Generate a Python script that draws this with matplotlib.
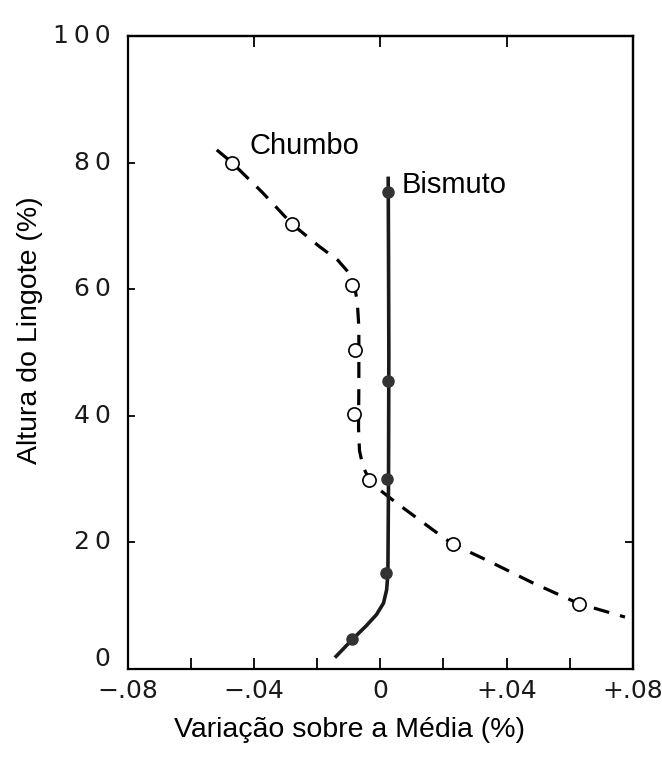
import matplotlib.pyplot as plt
import numpy as np

# Chumbo (lead): measured points (open circles) and drawn dashed curve
chumbo_x = [-0.047, -0.028, -0.009, -0.008, -0.0084, -0.0036, 0.023, 0.063]
chumbo_y = [80.0, 70.3, 60.7, 50.4, 40.3, 29.9, 19.7, 10.3]
chumbo_curve_x = [-0.0518, -0.047, -0.0372, -0.028, -0.0192, -0.0135, -0.0100, -0.0082,
                  -0.0073, -0.0068, -0.0068, -0.0069, -0.0066, -0.0055, -0.0036, -0.0002,
                  0.0052, 0.0166, 0.023, 0.0337, 0.0483, 0.063, 0.0775]
chumbo_curve_y = [82.0, 80.0, 75.2, 70.3, 66.7, 64.6, 62.6, 60.6,
                  58.0, 54.0, 45.0, 38.0, 34.5, 32.0, 30.0, 28.3,
                  26.2, 22.0, 19.7, 17.2, 13.6, 10.3, 8.2]

# Bismuto (bismuth): measured points (filled circles) and solid curve
bismuto_x = [-0.009, 0.0017, 0.002, 0.0024, 0.0024]
bismuto_y = [4.8, 15.2, 30.0, 45.5, 75.3]
bismuto_curve_x = [-0.014, -0.009, -0.0045, -0.0012, 0.0010, 0.0020, 0.0024, 0.0026, 0.0027, 0.0026, 0.0025]
bismuto_curve_y = [2.0, 4.6, 6.8, 8.6, 10.4, 12.5, 15.0, 30.0, 50.0, 65.0, 77.5]

xticks = [-0.08, -0.04, 0.0, 0.04, 0.08]
xticklabels = ['\u2212.08', '\u2212.04', '0', '+.04', '+.08']
yticks = [0, 20, 40, 60, 80, 100]
yticklabels = ['0', '2\u20090', '4\u20090', '6\u20090', '8\u20090', '1\u20090\u20090']

fig = plt.figure(figsize=(6.62, 7.65), dpi=100)
ax = fig.add_axes([0.193, 0.1255, 0.763, 0.8275])

ax.plot(chumbo_curve_x, chumbo_curve_y, color='black', lw=2.3,
        linestyle=(0, (5, 3.5)), zorder=2)
ax.plot(chumbo_x, chumbo_y, 'o', ms=9.5, mfc='white', mec='black', mew=1.2, zorder=3)

ax.plot(bismuto_curve_x, bismuto_curve_y, color='#1a1a1a', lw=2.6, zorder=2)
ax.plot(bismuto_x, bismuto_y, 'o', ms=8, mfc='#333333', mec='#333333', zorder=3)

ax.text(-0.0415, 82.6, 'Chumbo', family='Liberation Sans', fontsize=21, va='center')
ax.text(0.0066, 76.4, 'Bismuto', family='Liberation Sans', fontsize=21, va='center')

ax.set_xlim(-0.08, 0.08)
ax.set_ylim(0, 100)
ax.set_xticks(np.arange(-0.08, 0.081, 0.02))
ax.set_xticklabels([''] * 9)
ax.set_yticks([20, 40, 60, 80])
ax.set_yticklabels([''] * 4)
ax.tick_params(axis='x', direction='in', length=8, width=1.3)
ax.tick_params(axis='y', direction='in', length=5, width=1.3)

for v, lab in zip(xticks, xticklabels):
    ax.text(v, -3.4, lab, ha='center', va='center', fontsize=18,
            family='DejaVu Sans', color='#1a1a1a')
for v, lab in zip(yticks, yticklabels):
    ax.text(-0.0855, v + (1.6 if v == 0 else 0), lab, ha='right', va='center',
            fontsize=18, family='DejaVu Sans', color='#1a1a1a')

top = ax.secondary_xaxis('top')
top.set_xticks([-0.04, 0.0, 0.04])
top.set_xticklabels(['', '', ''])
top.tick_params(direction='in', length=8, width=1.3)
right = ax.secondary_yaxis('right')
right.set_yticks([20])
right.set_yticklabels([''])
right.tick_params(direction='in', length=6, width=1.3)

for sp in list(ax.spines.values()) + [top.spines['top'], right.spines['right']]:
    sp.set_linewidth(1.6)

fig.text(0.528, 0.046, 'Variação sobre a Média (%)', ha='center', va='center',
         family='Liberation Sans', fontsize=20.5)
fig.text(0.045, 0.568, 'Altura do Lingote (%)', ha='center', va='center',
         rotation=90, family='Liberation Sans', fontsize=20.5)

fig.savefig('out.png', dpi=100)
